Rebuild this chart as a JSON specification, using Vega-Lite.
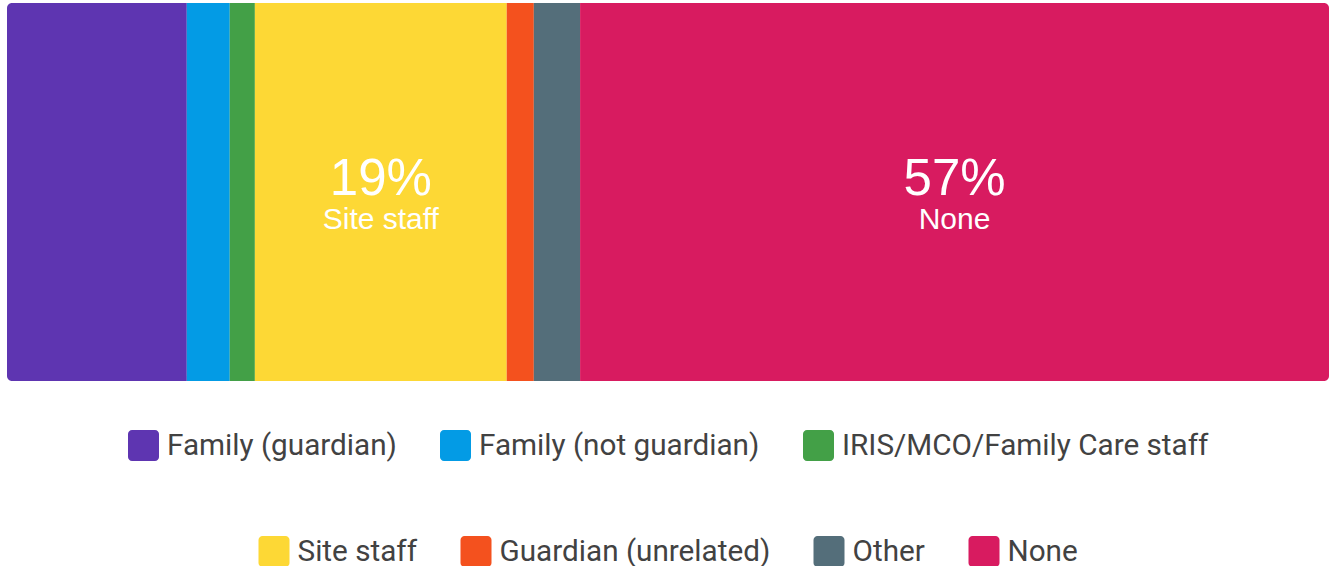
{
  "$schema": "https://vega.github.io/schema/vega-lite/v6.json",
  "width": 1322,
  "height": 378,
  "padding": {"left": 7, "top": 3, "right": 1, "bottom": 0},
  "autosize": {"type": "pad"},
  "background": "white",
  "data": {
    "values": [
      {"who": "Family (guardian)", "pct": 0.136, "order": 1},
      {"who": "Family (not guardian)", "pct": 0.0325, "order": 2},
      {"who": "IRIS/MCO/Family Care staff", "pct": 0.019, "order": 3},
      {"who": "Site staff", "pct": 0.1905, "order": 4},
      {"who": "Guardian (unrelated)", "pct": 0.0205, "order": 5},
      {"who": "Other", "pct": 0.035, "order": 6},
      {"who": "None", "pct": 0.5665, "order": 7}
    ]
  },
  "transform": [
    {"stack": "pct", "groupby": [], "sort": [{"field": "order"}], "as": ["x0", "x1"]},
    {"calculate": "(datum.x0 + datum.x1) / 2", "as": "mid"}
  ],
  "encoding": {
    "x": {"field": "x0", "type": "quantitative", "scale": {"domain": [0, 1], "nice": false, "zero": true}, "axis": null},
    "x2": {"field": "x1"},
    "y": {"datum": "all", "type": "nominal", "scale": {"paddingInner": 0, "paddingOuter": 0}, "axis": null}
  },
  "layer": [
    {
      "encoding": {
        "color": {
          "field": "who",
          "type": "nominal",
          "scale": {
            "domain": ["Family (guardian)", "Family (not guardian)", "IRIS/MCO/Family Care staff", "Site staff", "Guardian (unrelated)", "Other", "None"],
            "range": ["#5E35B1", "#039BE5", "#43A047", "#FDD835", "#F4511E", "#546E7A", "#D81B60"]
          },
          "legend": {"values": ["Family (guardian)", "Family (not guardian)", "IRIS/MCO/Family Care staff"]}
        }
      },
      "layer": [
        {"transform": [{"filter": "datum.order == 1"}], "mark": {"type": "bar", "cornerRadiusTopLeft": 5, "cornerRadiusBottomLeft": 5}},
        {"transform": [{"filter": "datum.order > 1 && datum.order < 7"}], "mark": {"type": "bar"}},
        {"transform": [{"filter": "datum.order == 7"}], "mark": {"type": "bar", "cornerRadiusTopRight": 5, "cornerRadiusBottomRight": 5}}
      ]
    },
    {
      "mark": {"type": "bar", "opacity": 0},
      "encoding": {
        "color": {
          "field": "who",
          "type": "nominal",
          "scale": {
            "domain": ["Family (guardian)", "Family (not guardian)", "IRIS/MCO/Family Care staff", "Site staff", "Guardian (unrelated)", "Other", "None"],
            "range": ["#5E35B1", "#039BE5", "#43A047", "#FDD835", "#F4511E", "#546E7A", "#D81B60"]
          },
          "legend": {"values": ["Site staff", "Guardian (unrelated)", "Other", "None"], "symbolOpacity": 1}
        }
      }
    },
    {
      "transform": [{"filter": "datum.pct > 0.1 && datum.order > 1"}],
      "mark": {"type": "text", "color": "white", "font": "Liberation Sans", "fontSize": 51, "baseline": "alphabetic", "align": "center", "dy": 3},
      "encoding": {
        "x": {"field": "mid", "type": "quantitative"},
        "x2": null,
        "text": {"field": "pct", "type": "quantitative", "format": ".0%"}
      }
    },
    {
      "transform": [{"filter": "datum.pct > 0.1 && datum.order > 1"}],
      "mark": {"type": "text", "color": "white", "font": "Liberation Sans", "fontSize": 30, "baseline": "alphabetic", "align": "center", "dy": 37},
      "encoding": {
        "x": {"field": "mid", "type": "quantitative"},
        "x2": null,
        "text": {"field": "who", "type": "nominal"}
      }
    }
  ],
  "resolve": {"scale": {"color": "independent"}},
  "config": {
    "view": {"stroke": null},
    "legend": {
      "orient": "bottom",
      "direction": "horizontal",
      "title": null,
      "offset": 49,
      "labelFont": "Roboto",
      "labelFontSize": 29.7,
      "labelColor": "#424242",
      "labelOffset": 8,
      "labelLimit": 0,
      "columnPadding": 43,
      "symbolSize": 961,
      "symbolType": "M-0.74,-1H0.74A0.26,0.26 0 0 1 1,-0.74V0.74A0.26,0.26 0 0 1 0.74,1H-0.74A0.26,0.26 0 0 1 -1,0.74V-0.74A0.26,0.26 0 0 1 -0.74,-1Z",
      "symbolStrokeWidth": 0,
      "layout": {"bottom": {"anchor": "middle", "direction": "vertical", "center": true, "margin": 75}}
    }
  }
}
